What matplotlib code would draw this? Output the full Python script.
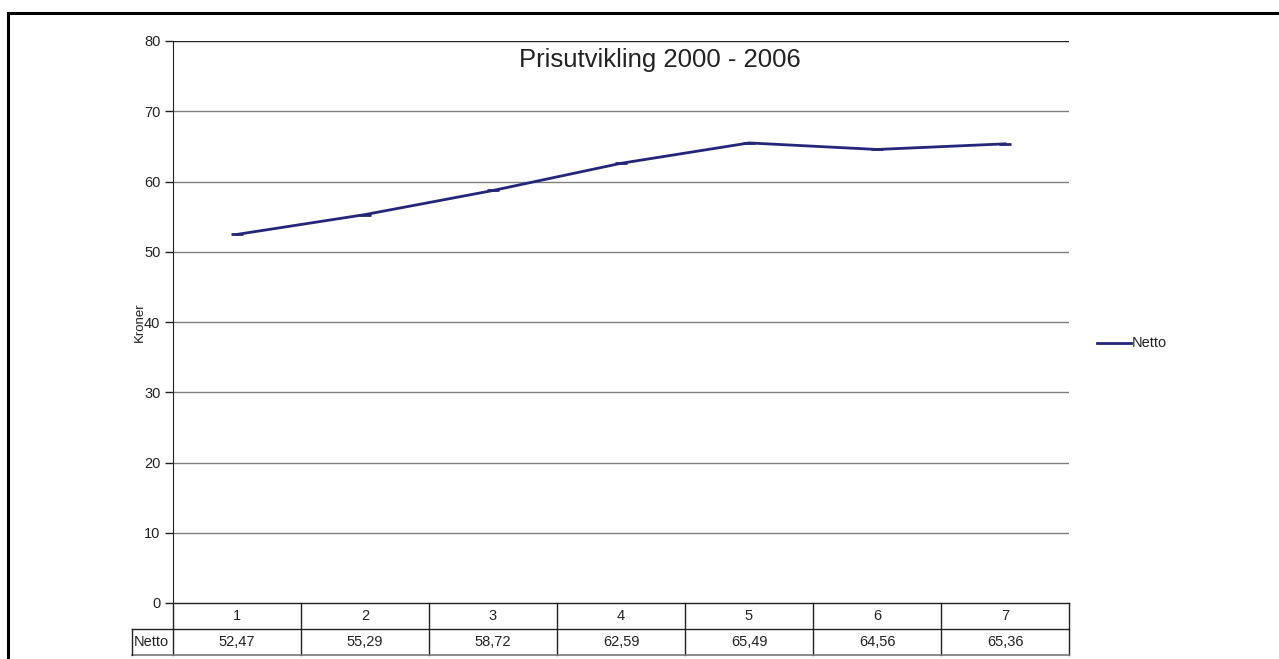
import matplotlib
matplotlib.use("Agg")
import matplotlib.pyplot as plt
from matplotlib.lines import Line2D

categories = ["1", "2", "3", "4", "5", "6", "7"]
netto = [52.47, 55.29, 58.72, 62.59, 65.49, 64.56, 65.36]
netto_labels = ["52,47", "55,29", "58,72", "62,59", "65,49", "64,56", "65,36"]
yticks = [0, 10, 20, 30, 40, 50, 60, 70, 80]
series_name = "Netto"
title = "Prisutvikling 2000 - 2006"
ylabel = "Kroner"

W, H = 1279, 659
plt.rcParams['font.family'] = ['Liberation Sans', 'DejaVu Sans']
fig = plt.figure(figsize=(W / 100, H / 100), dpi=100)

L, R, T, B = 173, 1069, 41, 603
ax = fig.add_axes([L / W, 1 - B / H, (R - L) / W, (B - T) / H])
n = len(categories)
xs = list(range(1, n + 1))
ax.set_xlim(0.5, n + 0.5)
ax.set_ylim(0, 80)
ax.set_yticks(yticks)
ax.set_yticklabels([str(v) for v in yticks], fontsize=10.5, color="#222222")
ax.tick_params(axis="y", length=6, width=1, pad=3, color="#222222")
ax.set_xticks([])
for s in ["top", "right", "bottom"]:
    ax.spines[s].set_visible(False)
ax.spines["left"].set_color("#222222")
for v in yticks[1:-1]:
    ax.axhline(v, color="#808080", lw=1, zorder=1)
ax.axhline(80, color="#222222", lw=1, zorder=1)
ax.axhline(0, color="#222222", lw=1, zorder=1, clip_on=False)

color = "#25257A"
ax.plot(xs, netto, color=color, lw=2, marker="_", ms=9, mew=2, zorder=3)

fig.text(660 / W, 1 - 60 / H, title, ha="center", va="center",
         fontsize=18.5, color="#222222")
fig.text(140 / W, 1 - 322 / H, ylabel, rotation=90, ha="center", va="center",
         fontsize=9.5, color="#222222")

# data table below axis
row_h = 26
y1 = 1 - B / H
y2 = 1 - (B + row_h) / H
y3 = 1 - (B + 2 * row_h) / H
trans_x = lambda x: (L + (x - 0.5) / n * (R - L)) / W
lk = dict(color="#222222", lw=1)
for i in range(n + 1):
    xf = trans_x(0.5 + i)
    fig.add_artist(Line2D([xf, xf], [y1, y3], **lk))
fig.add_artist(Line2D([L / W, R / W], [y2, y2], **lk))
fig.add_artist(Line2D([132 / W, R / W], [y3, y3], color="#777777", lw=1.2))
fig.add_artist(Line2D([132 / W, 132 / W], [y2, y3], **lk))
fig.add_artist(Line2D([132 / W, L / W], [y2, y2], **lk))
for i in range(n):
    xc = trans_x(i + 1)
    fig.text(xc, (y1 + y2) / 2, categories[i], ha="center", va="center", fontsize=10.5, color="#222222")
    fig.text(xc, (y2 + y3) / 2, netto_labels[i], ha="center", va="center", fontsize=10.5, color="#222222")
fig.text(134 / W, (y2 + y3) / 2, series_name, ha="left", va="center", fontsize=10.5, color="#222222")

# legend
ly = 1 - 343 / H
fig.add_artist(Line2D([1097 / W, 1131 / W], [ly, ly], color=color, lw=2))
fig.text(1132 / W, ly, series_name, ha="left", va="center", fontsize=10.5, color="#222222")

# outer frame (top and left only visible)
fig.add_artist(Line2D([8 / W, 1.0], [1 - 13 / H, 1 - 13 / H], color="black", lw=2.2))
fig.add_artist(Line2D([8 / W, 8 / W], [1 - 13 / H, 0], color="black", lw=2.2))

fig.savefig("out.png", dpi=100)
